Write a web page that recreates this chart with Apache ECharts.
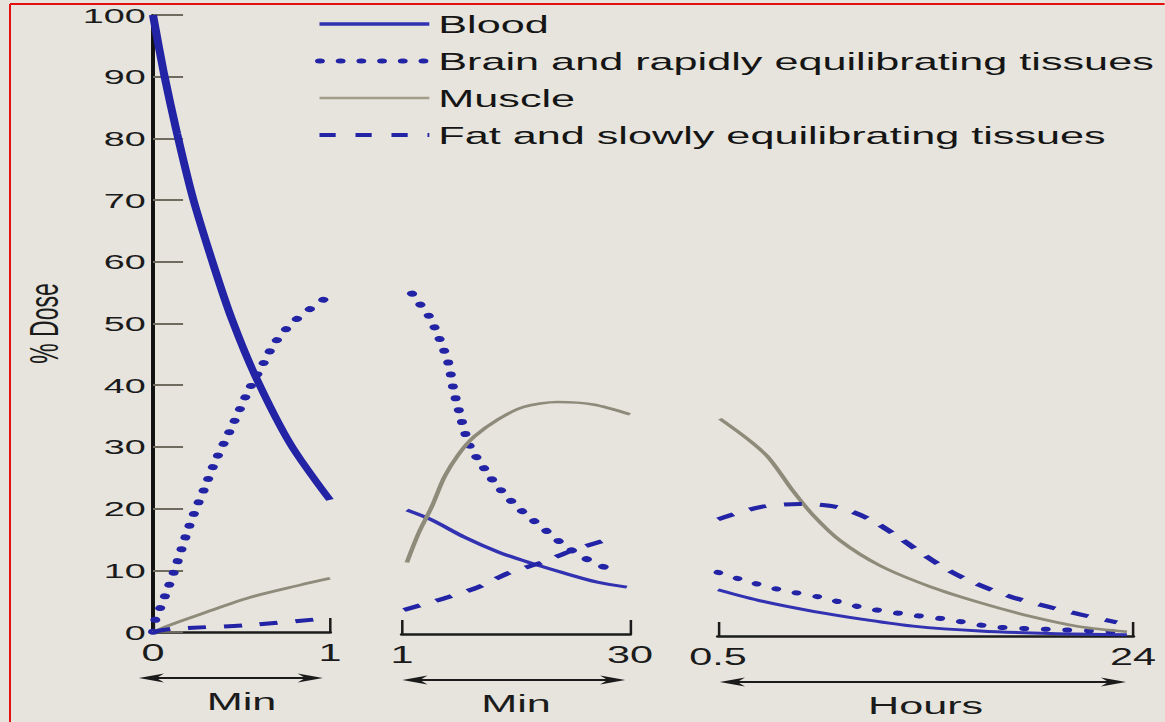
<!DOCTYPE html>
<html>
<head>
<meta charset="utf-8">
<script src="https://cdn.jsdelivr.net/npm/echarts@6/dist/echarts.min.js"></script>
<style>
  html, body { margin: 0; padding: 0; background: #e6e4dc; overflow: hidden; }
  #chart { width: 647.2px; height: 722px; transform: scaleX(1.8); transform-origin: 0 0; }
</style>
</head>
<body>
<div id="chart"></div>
<script>
// the scanned figure is stretched sideways, so the chart is laid out narrow and widened by STRETCH
const STRETCH = 1.8
const FONT = "'Liberation Sans', Arial, Helvetica, sans-serif"

const yMax = 100
const yStep = 10
const minTicks1 = [0, 1]      // first panel, minutes
const minTicks2 = [1, 30]     // second panel, minutes
const hourTicks = [0.5, 24]   // third panel, hours
const axisNames = ['Min', 'Min', 'Hours']
const arrowSpans = [[-0.08, 0.96], [1.05, 29.4], [0.6, 23.6]]

// panel 1 (0 - 1 min)
const blood1X = [0, 0.062, 0.136, 0.226, 0.345, 0.447, 0.58, 0.774, 1]
const blood1Y = [100, 90.5, 80.8, 70.3, 59.2, 50.6, 41.4, 30.6, 21.4]
const brain1X = [0, 0.016, 0.044, 0.07, 0.123, 0.192, 0.24, 0.294, 0.348, 0.446, 0.543, 0.614, 0.69, 0.795, 0.97]
const brain1Y = [0, 2.3, 4.1, 6.0, 10.1, 16.1, 19.8, 23.5, 27.4, 33.3, 39.3, 43.0, 46.9, 50.3, 54.0]
const muscle1X = [0, 0.084, 0.27, 0.548, 0.83, 1]
const muscle1Y = [0, 1.0, 2.9, 5.6, 7.6, 8.7]
const fat1X = [0, 0.1, 0.53, 0.94, 1]
const fat1Y = [0, 0.5, 1.1, 2.1, 2.4]

// panel 2 (1 - 30 min)
const blood2X = [1.63, 4.78, 8.94, 13.23, 17.4, 21.55, 25.84, 29.6]
const blood2Y = [20.1, 18.5, 15.7, 13.3, 11.5, 9.9, 8.4, 7.6]
const brain2X = [2.26, 3.27, 4.4, 5.79, 6.93, 7.56, 8.31, 9.2, 9.83, 10.84, 12.98, 15.75, 18.9, 22.06, 25.97, 28.74]
const brain2Y = [55.2, 53.5, 51.6, 47.8, 43.8, 39.6, 35.9, 31.9, 29.9, 28.0, 24.2, 20.5, 17.2, 14.0, 11.2, 10.2]
const muscle2X = [1.63, 3.14, 4.78, 6.42, 8.19, 10.2, 13.23, 16.5, 20.8, 25.3, 30]
const muscle2Y = [11.6, 16.4, 20.6, 25.5, 29.1, 32.0, 34.8, 36.8, 37.6, 37.2, 35.6]
const fat2X = [1.25, 6.93, 10.7, 14.6, 19.0, 22.8, 27.9]
const fat2Y = [3.9, 6.0, 7.6, 9.9, 11.7, 13.6, 15.6]

// panel 3 (0.5 - 24 h)
const blood3X = [0.5, 3.05, 5.88, 8.71, 11.54, 15.33, 19.3, 23.65]
const blood3Y = [7.5, 5.6, 4.0, 2.7, 1.6, 0.8, 0.4, 0.2]
const brain3X = [0.5, 1.75, 4.0, 6.27, 8.71, 11.2, 13.46, 16.07, 19.12, 22.86, 23.8]
const brain3Y = [10.3, 9.2, 7.5, 6.3, 4.6, 3.5, 2.7, 1.5, 1.1, 0.7, 0.5]
const muscle3X = [0.61, 2.14, 3.27, 4.0, 4.75, 5.88, 7.4, 9.67, 12.5, 15.33, 18.16, 20.99, 23.65]
const muscle3Y = [35.2, 32.0, 29.2, 26.5, 23.5, 19.6, 15.5, 11.4, 8.0, 5.4, 3.2, 1.5, 0.7]
const fat3X = [0.5, 2.88, 5.14, 7.24, 9.1, 10.63, 11.93, 13.46, 14.93, 17.03, 19.12, 20.99, 23.08]
const fat3Y = [18.9, 20.9, 21.4, 20.9, 18.9, 16.2, 13.6, 10.8, 8.7, 6.4, 4.8, 3.5, 2.2]

const BLUE = '#2323a6'
const BLUE_LIGHT = '#3131b2'
const MUSCLE = '#8f8b7b'
const INK = '#1b1b1b'

const NAMES = ['Blood', 'Brain and rapidly equilibrating tissues', 'Muscle', 'Fat and slowly equilibrating tissues']

const chart = echarts.init(document.getElementById('chart'), null, { renderer: 'svg' })

const grids = [
  { left: 85, width: 98.3, top: 15, bottom: 90 },
  { left: 223.3, width: 126.7, top: 17, bottom: 88 },
  { left: 398.9, width: 230.6, top: 19, bottom: 86 }
]
const tickSets = [minTicks1, minTicks2, hourTicks]

function pairs(xs, ys) {
  return xs.map((x, i) => [x, ys[i]])
}

function curve(nameIdx, panel, xs, ys, lineStyle) {
  return {
    name: NAMES[nameIdx],
    type: 'line',
    xAxisIndex: panel,
    yAxisIndex: panel,
    data: pairs(xs, ys),
    symbol: 'none',
    smooth: 0.3,
    clip: false,
    silent: true,
    lineStyle: lineStyle
  }
}

const dots = { color: BLUE, width: 5.5, type: [0.5, 11.5], cap: 'round' }
const dashes = { color: BLUE, width: 4, type: [10, 10], cap: 'butt' }
const muscleLine = { color: MUSCLE, width: 2.6 }

const xAxes = tickSets.map((ticks, i) => ({
  type: 'value',
  gridIndex: i,
  min: ticks[0],
  max: ticks[1],
  name: axisNames[i],
  nameLocation: 'middle',
  nameGap: 57,
  nameTextStyle: { fontSize: 24, color: INK, fontFamily: FONT },
  axisLine: { lineStyle: { color: INK, width: 2.5 } },
  axisTick: { customValues: ticks, inside: true, length: 14, lineStyle: { color: INK, width: 1.4 } },
  axisLabel: { customValues: ticks, fontSize: 23, color: INK, fontFamily: FONT, margin: 10 },
  splitLine: { show: false }
}))

const yAxes = grids.map((g, i) => ({
  type: 'value',
  gridIndex: i,
  min: 0,
  max: yMax,
  interval: yStep,
  show: i === 0,
  name: i === 0 ? '% Dose' : '',
  nameLocation: 'middle',
  nameRotate: 90,
  nameGap: 49,
  nameTextStyle: { fontSize: 23, color: INK, fontFamily: FONT },
  axisLine: { show: true, lineStyle: { color: '#111', width: 2.2 } },
  axisTick: { show: true, inside: true, length: 16.7, lineStyle: { color: '#6f6b5e', width: 2 } },
  axisLabel: { fontSize: 21, color: INK, fontFamily: FONT, margin: 4 },
  splitLine: { show: false }
}))

const option = {
  animation: false,
  backgroundColor: '#e6e4dc',
  grid: grids,
  xAxis: xAxes,
  yAxis: yAxes,
  legend: {
    orient: 'vertical',
    left: 175,
    top: 12,
    padding: 0,
    itemWidth: 61,
    itemHeight: 14,
    itemGap: 13,
    selectedMode: false,
    itemStyle: { opacity: 0 },
    textStyle: { fontSize: 24, lineHeight: 24, color: '#151515', fontFamily: FONT },
    data: [
      { name: NAMES[0], lineStyle: { color: BLUE_LIGHT, width: 3.6 } },
      { name: NAMES[1], lineStyle: { color: BLUE, width: 5, type: [0.5, 11], cap: 'round' } },
      { name: NAMES[2], lineStyle: { color: '#a39c88', width: 2.6 } },
      { name: NAMES[3], lineStyle: { color: BLUE, width: 4, type: [9, 11] } }
    ]
  },
  series: [
    curve(0, 0, blood1X, blood1Y, { color: BLUE, width: 4.5 }),
    curve(1, 0, brain1X, brain1Y, dots),
    curve(2, 0, muscle1X, muscle1Y, muscleLine),
    curve(3, 0, fat1X, fat1Y, dashes),
    curve(0, 1, blood2X, blood2Y, { color: BLUE_LIGHT, width: 3 }),
    curve(1, 1, brain2X, brain2Y, dots),
    curve(2, 1, muscle2X, muscle2Y, muscleLine),
    curve(3, 1, fat2X, fat2Y, dashes),
    curve(0, 2, blood3X, blood3Y, { color: BLUE_LIGHT, width: 3 }),
    curve(1, 2, brain3X, brain3Y, { color: BLUE, width: 5, type: [0.5, 11.5], cap: 'round' }),
    curve(2, 2, muscle3X, muscle3Y, muscleLine),
    curve(3, 2, fat3X, fat3Y, dashes)
  ]
}

chart.setOption(option)

// double arrows under each panel + the red frame of the scan
function arrowHead(x, y, dir) {
  const len = 14, h = 4.5
  return {
    type: 'polygon',
    shape: { points: [[x, y], [x - dir * len, y - h], [x - dir * len * 0.7, y], [x - dir * len, y + h]] },
    style: { fill: INK },
    silent: true
  }
}

const extras = [
  { type: 'line', shape: { x1: 10 / STRETCH, y1: 4, x2: 1165 / STRETCH, y2: 4 }, style: { stroke: '#e31010', lineWidth: 2 }, silent: true },
  { type: 'line', shape: { x1: 10 / STRETCH, y1: 4, x2: 10 / STRETCH, y2: 722 }, style: { stroke: '#e31010', lineWidth: 1.1 }, silent: true }
]
arrowSpans.forEach((span, i) => {
  const a = chart.convertToPixel({ gridIndex: i }, [span[0], 0])
  const b = chart.convertToPixel({ gridIndex: i }, [span[1], 0])
  const y = a[1] + 46
  extras.push({ type: 'line', shape: { x1: a[0] + 4, y1: y, x2: b[0] - 4, y2: y }, style: { stroke: INK, lineWidth: 2 }, silent: true })
  extras.push(arrowHead(a[0], y, -1))
  extras.push(arrowHead(b[0], y, 1))
})

chart.setOption({ graphic: extras })
</script>
</body>
</html>
